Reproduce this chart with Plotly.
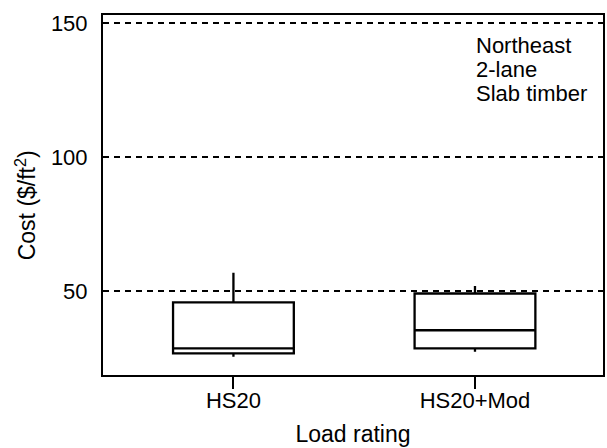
import plotly.graph_objects as go

categories = ["HS20", "HS20+Mod"]
q1 = [26.8, 28.6]
median = [28.6, 35.4]
q3 = [45.8, 49.1]
lower_whisker = [25.5, 27.4]
upper_whisker = [56.8, 51.9]
y_ticks = [50, 100, 150]
note_lines = ["Northeast", "2-lane", "Slab timber"]

FONT = "Liberation Sans, Arial, Helvetica, sans-serif"

fig = go.Figure()
for i, c in enumerate(categories):
    fig.add_trace(go.Box(
        x=[c], q1=[q1[i]], median=[median[i]], q3=[q3[i]],
        lowerfence=[lower_whisker[i]], upperfence=[upper_whisker[i]],
        width=0.5, whiskerwidth=0, boxpoints=False,
        fillcolor="white", line=dict(color="black", width=2.3),
        showlegend=False,
    ))

fig.update_layout(
    width=607, height=448,
    margin=dict(l=103, r=2, t=15, b=73),
    plot_bgcolor="white", paper_bgcolor="white",
    font=dict(family=FONT, color="black", size=22),
    xaxis=dict(
        type="category", range=[-0.54, 1.53],
        showline=True, linecolor="black", linewidth=2, mirror=True,
        ticks="outside", ticklen=12, tickwidth=1.5, tickcolor="black",
        ticklabelstandoff=-7,
        showgrid=False, zeroline=False,
        tickfont=dict(size=22),
        title=dict(text="Load rating", font=dict(size=23), standoff=13),
    ),
    yaxis=dict(
        range=[18.7, 153], tickvals=y_ticks,
        showline=True, linecolor="black", linewidth=2, mirror=True,
        ticks="", ticklabelstandoff=9,
        showgrid=True, gridcolor="black", gridwidth=1.5, griddash="6px,5px",
        zeroline=False, tickfont=dict(size=22),
    ),
)

fig.add_annotation(
    text="Cost ($/ft<sup>2</sup>)", textangle=-90,
    xref="paper", yref="paper", x=-0.155, y=0.47,
    xanchor="center", yanchor="middle", showarrow=False,
    font=dict(size=23),
)

for k, line in enumerate(note_lines):
    fig.add_annotation(
        text=line, xref="paper", yref="paper",
        x=(475 - 103) / 502, y=1 - (45 + 24 * k - 15) / 360,
        xanchor="left", yanchor="middle", showarrow=False,
        font=dict(size=22),
    )

fig.write_html("out.html")
